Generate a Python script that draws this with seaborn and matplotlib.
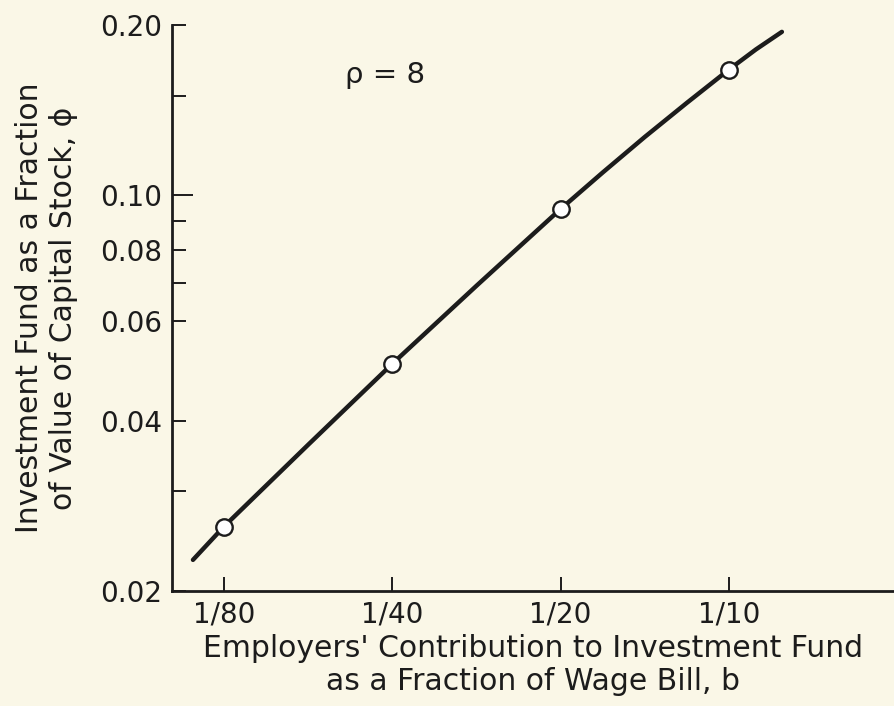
import matplotlib
matplotlib.use("Agg")
import matplotlib.pyplot as plt
import matplotlib.ticker as mticker
import seaborn as sns
import pandas as pd

# Data
curve_b = [0.0110, 0.0125, 0.0177, 0.025, 0.0354, 0.05, 0.0595, 0.0707,
           0.0841, 0.1, 0.1118, 0.1244]
curve_phi = [0.0227, 0.0260, 0.0363, 0.0504, 0.0693, 0.0946, 0.1098, 0.1268,
             0.1457, 0.1668, 0.1811, 0.1945]
point_b = [1/80, 1/40, 1/20, 1/10]
point_phi = [0.0260, 0.0504, 0.0946, 0.1668]
x_tick_vals = [1/80, 1/40, 1/20, 1/10]
x_tick_labels = ["1/80", "1/40", "1/20", "1/10"]
y_tick_vals = [0.02, 0.04, 0.06, 0.08, 0.10, 0.20]
y_tick_labels = ["0.02", "0.04", "0.06", "0.08", "0.10", "0.20"]
y_minor_vals = [0.03, 0.07, 0.09, 0.15]

bg = "#FAF7E7"
ink = "#1c1c1c"

sns.set_style("ticks")
plt.rcParams['font.family'] = ['DejaVu Sans']

fig = plt.figure(figsize=(8.94, 7.06), dpi=100, facecolor=bg)
ax = fig.add_axes([172/894, 1 - 591/706, (894 - 172)/894, (591 - 25)/706])
ax.set_facecolor(bg)

curve = pd.DataFrame({"b": curve_b, "phi": curve_phi})
pts = pd.DataFrame({"b": point_b, "phi": point_phi})

sns.lineplot(data=curve, x="b", y="phi", ax=ax, color=ink, lw=3.2,
             solid_capstyle="round", solid_joinstyle="round", sort=True, zorder=2)
sns.scatterplot(data=pts, x="b", y="phi", ax=ax, s=140, facecolor="white",
                edgecolor=ink, linewidth=1.7, zorder=3)

ax.set_xscale("log")
ax.set_yscale("log")
ax.set_xlim(0.01009, 0.1974)
ax.set_ylim(0.02, 0.20)

ax.xaxis.set_major_locator(mticker.FixedLocator(x_tick_vals))
ax.xaxis.set_major_formatter(mticker.FixedFormatter(x_tick_labels))
ax.xaxis.set_minor_locator(mticker.NullLocator())
ax.yaxis.set_major_locator(mticker.FixedLocator(y_tick_vals))
ax.yaxis.set_major_formatter(mticker.FixedFormatter(y_tick_labels))
ax.yaxis.set_minor_locator(mticker.FixedLocator(y_minor_vals))
ax.yaxis.set_minor_formatter(mticker.NullFormatter())

ax.tick_params(axis="both", which="major", direction="in", length=10, width=1.4,
               color=ink, labelsize=20, labelcolor=ink)
ax.tick_params(axis="x", which="major", pad=7)
ax.tick_params(axis="y", which="major", pad=7)
ax.tick_params(axis="y", which="minor", direction="in", length=10, width=1.4, color=ink)
for t, v in zip(ax.yaxis.get_major_ticks(), y_tick_vals):
    if abs(v - 0.10) < 1e-9:
        t.tick1line.set_markersize(15)

for side in ["top", "right"]:
    ax.spines[side].set_visible(False)
for side in ["left", "bottom"]:
    ax.spines[side].set_linewidth(2.0)
    ax.spines[side].set_color(ink)

ax.set_xlabel("Employers' Contribution to Investment Fund\nas a Fraction of Wage Bill, b",
              fontsize=21.5, color=ink, labelpad=4, linespacing=1.15)
ax.set_ylabel("Investment Fund as a Fraction\nof Value of Capital Stock, \u03d5",
              fontsize=21.5, color=ink, labelpad=16, linespacing=1.2)

ax.text(0.24, 0.912, "\u03c1 = 8", transform=ax.transAxes, fontsize=21,
        color=ink, ha="left", va="center")

fig.savefig("out.png", dpi=100, facecolor=bg)
